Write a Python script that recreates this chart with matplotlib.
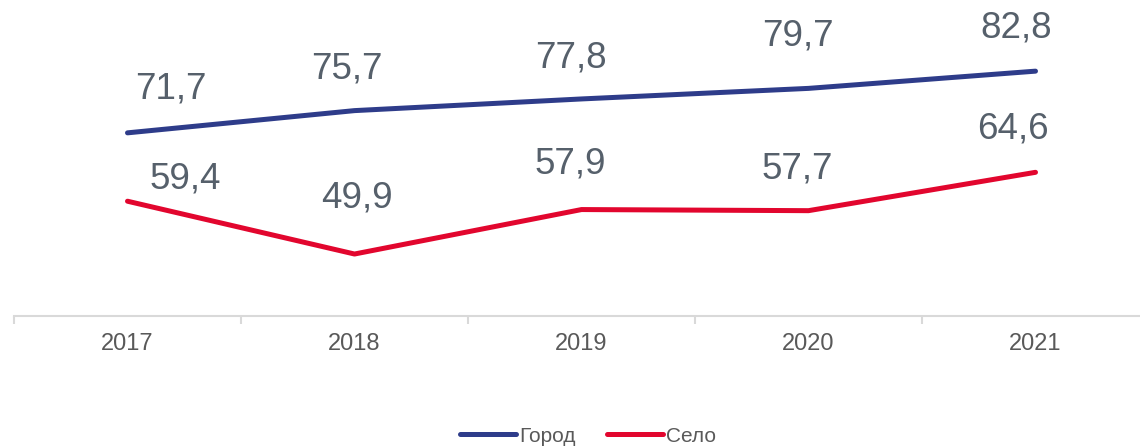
import matplotlib.pyplot as plt

# data
years = ['2017', '2018', '2019', '2020', '2021']
gorod = [71.7, 75.7, 77.8, 79.7, 82.8]
selo = [59.4, 49.9, 57.9, 57.7, 64.6]

# label offsets in pixels (dx, dy) relative to each point
gorod_off = [(43, 44), (-8, 42), (-11, 41), (-11, 52), (-19, 43)]
selo_off = [(58, 22), (2, 56), (-11, 46), (-11, 42), (-23, 43)]

plt.rcParams['font.family'] = ['Liberation Sans', 'DejaVu Sans']

fig = plt.figure(figsize=(11.4, 4.46), dpi=100)
ax = fig.add_axes([14 / 1140, 130 / 446, 1135 / 1140, 316 / 446])

x = list(range(len(years)))
blue = '#2E3C8A'
red = '#E2062E'
ax.plot(x, gorod, color=blue, lw=3.6, solid_capstyle='round', label='Город')
ax.plot(x, selo, color=red, lw=3.6, solid_capstyle='round', label='Село')

px = 0.72  # pixels -> points at dpi 100
for vals, offs in [(gorod, gorod_off), (selo, selo_off)]:
    for i, v in enumerate(vals):
        dx, dy = offs[i]
        ax.annotate(f'{v:.1f}'.replace('.', ','), (i, v), xytext=(dx * px, dy * px),
                    textcoords='offset points', ha='center', va='center',
                    fontsize=26.5, color='#56606B')

ax.set_xlim(-0.5, 4.5)
ax.set_ylim(38.75, 95.6)

for s in ['top', 'right', 'left']:
    ax.spines[s].set_visible(False)
ax.spines['bottom'].set_color('#D9D9D9')
ax.spines['bottom'].set_linewidth(1.5)
ax.set_yticks([])
ax.set_xticks(x)
ax.set_xticklabels(years, fontsize=17, color='#595959')
ax.tick_params(axis='x', which='major', length=0, pad=12)
ax.set_xticks([i - 0.5 for i in range(len(years) + 1)], minor=True)
ax.tick_params(axis='x', which='minor', length=6, width=1.5, color='#D9D9D9', direction='out')

leg = fig.legend(loc='center', bbox_to_anchor=(588 / 1140, 1 - 436 / 446), ncol=2,
                 frameon=False, fontsize=15, handlelength=2.7, handletextpad=0.15,
                 columnspacing=1.5)
for t in leg.get_texts():
    t.set_color('#595959')

fig.savefig('out.png', dpi=100)
